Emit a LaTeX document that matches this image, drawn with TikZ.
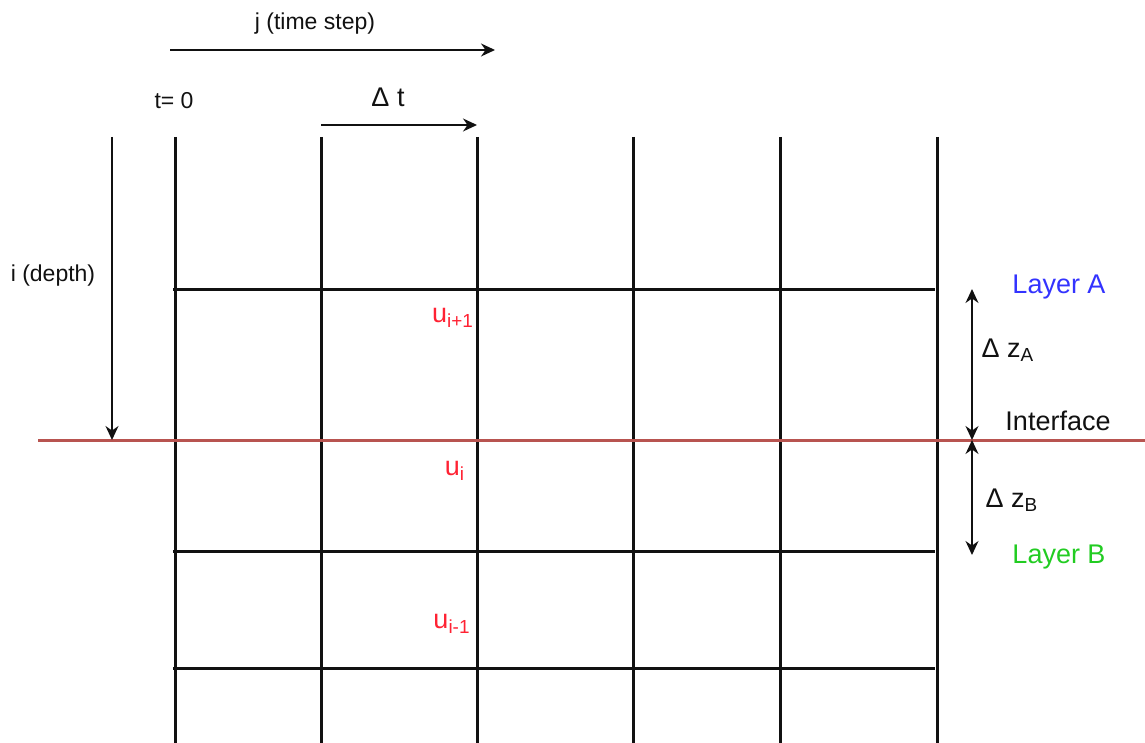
\documentclass[tikz,border=0pt]{standalone}
\usepackage{fontspec}
\setmainfont{Liberation Sans}
\usetikzlibrary{arrows.meta,positioning}
\definecolor{ink}{HTML}{111111}
\definecolor{iface}{HTML}{B85450}
\definecolor{nodered}{HTML}{FF2233}
\definecolor{layerA}{HTML}{3333FF}
\definecolor{layerB}{HTML}{22CC22}
\tikzset{meshline/.style={draw=ink,line width=1.5pt},axisarr/.style={-{Stealth[length=7pt,width=6.5pt]},line width=.7pt,draw=ink},dimarr/.style={axisarr,{Stealth[length=7pt,width=6.5pt]}-{Stealth[length=7pt,width=6.5pt]}},lbl/.style={font=\fontsize{11.5}{13}\selectfont,text=ink,inner sep=0pt},biglbl/.style={font=\fontsize{13.5}{15}\selectfont,text=ink,inner sep=0pt},uval/.style={biglbl,text=nodered}}
\begin{document}
\begin{tikzpicture}[x=0.5pt,y=-0.5pt]
\useasboundingbox (0,0) rectangle (1145,743);
% mesh
\foreach \x in {175,321,477,633,780,937}{\draw[meshline] (\x,137)--(\x,743);}
\foreach \y in {289,551,668}{\draw[meshline] (173,\y)--(935,\y);}
\draw[iface,line width=1.5pt] (38,440)--(1145,440);
% axes
\coordinate (jstart) at (170,50);
\coordinate (jend) at (495,50);
\draw[axisarr] (jstart)--(jend);
\node[lbl] (jlab) at (315,24) {j (time step)};
\node[lbl] (tzero) at (174,101) {t= 0};
\coordinate (dtstart) at (321,125);
\coordinate (dtend) at (477,125);
\draw[axisarr] (dtstart)--(dtend);
\node[biglbl] (dtlab) at (388,97) {Δ t};
\coordinate (istart) at (112,137);
\coordinate (iend) at (112,440);
\draw[axisarr] (istart)--(iend);
\node[lbl] (ilab) at (53,276) {i (depth)};
% layers
\coordinate (zatop) at (972,289);
\coordinate (zmid) at (972,440);
\coordinate (zbbot) at (972,555);
\draw[dimarr] (zatop)--(zmid);
\draw[dimarr] (zmid)--(zbbot);
\node[biglbl,text=layerA] (layA) at (1059,287) {Layer A};
\node[biglbl] (dza) at (1008,350) {Δ z\textsubscript{A}};
\node[biglbl] (iflab) at (1058,421) {Interface};
\node[biglbl] (dzb) at (1012,500) {Δ z\textsubscript{B}};
\node[biglbl,text=layerB] (layB) at (1059,557) {Layer B};
% unknowns
\node[uval] (uplus) at (453,318) {u\textsubscript{i+1}};
\node[uval] (ucur) at (455,471) {u\textsubscript{i}};
\node[uval] (uminus) at (452,624) {u\textsubscript{i-1}};
\end{tikzpicture}
\end{document}
